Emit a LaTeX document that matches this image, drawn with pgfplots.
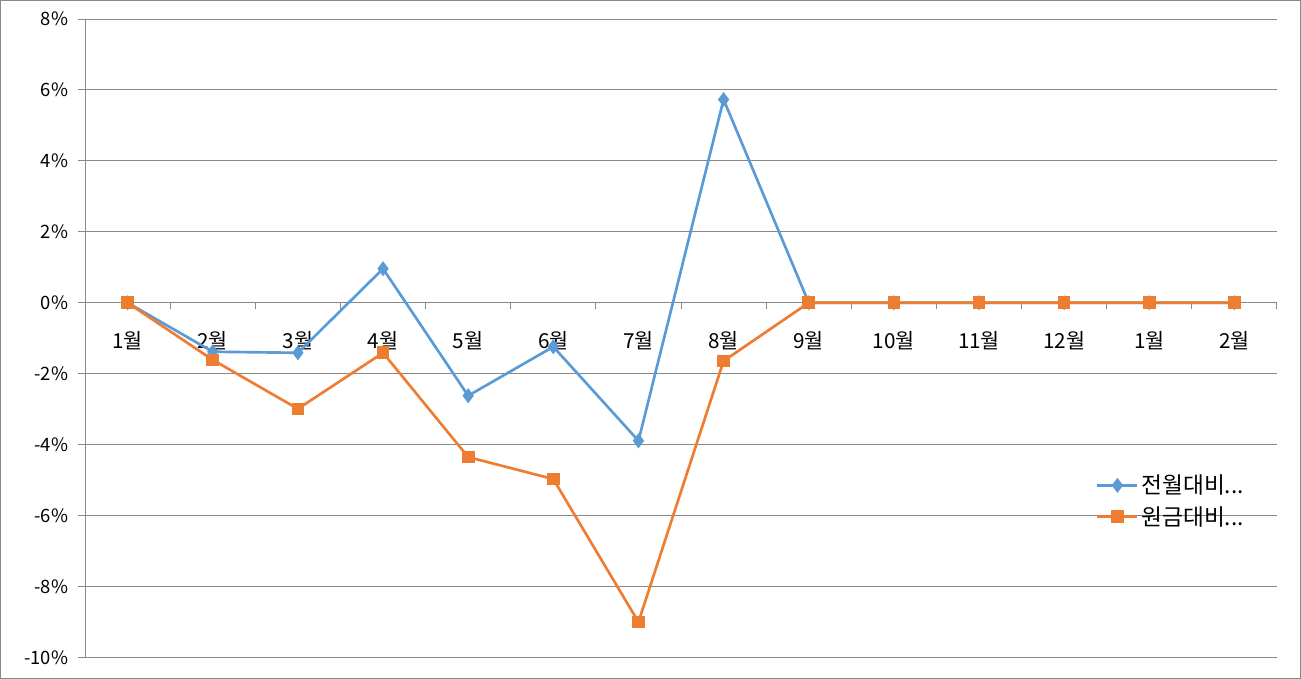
\documentclass[border=0pt]{standalone}
\usepackage{fontspec}
\setmainfont{Noto Sans CJK KR}
\usepackage{pgfplots}
\pgfplotsset{compat=1.18}
\definecolor{sblue}{HTML}{5B9BD5}
\definecolor{sorange}{HTML}{ED7D31}
\definecolor{gridc}{HTML}{888888}
\begin{document}
\begin{tikzpicture}
\begin{axis}[name=ax, scale only axis, width=893.25pt, height=478.5pt,
  xmin=-0.5, xmax=13.5, ymin=-10, ymax=8,
  axis x line=middle, axis y line=left,
  axis line style={-, draw=gridc, line width=0.75pt},
  ytick={-10,-8,...,8}, ymajorgrids,
  grid style={draw=gridc, line width=0.75pt},
  y tick style={draw=gridc, line width=0.75pt},
  tick align=outside, major tick length=5.25pt,
  /pgf/number format/assume math mode=true,
  yticklabel={\pgfmathprintnumber{\tick}\%},
  yticklabel style={font=\fontsize{13.8}{16}\selectfont, anchor=east, xshift=-4pt},
  xtick={0,...,13},
  xticklabels={1월,2월,3월,4월,5월,6월,7월,8월,9월,10월,11월,12월,1월,2월},
  major x tick style={draw=none},
  minor xtick={0.5,1.5,...,13.5},
  minor x tick style={draw=gridc, line width=0.75pt},
  minor tick length=5pt,
  xticklabel style={font=\fontsize{15.5}{18}\selectfont, anchor=center, yshift=-23pt},
  legend style={draw=none, fill=none, at={(0.848,0.245)}, anchor=west,
    font=\fontsize{17}{20}\selectfont, row sep=4pt, inner sep=0pt,
    /tikz/every even column/.append style={column sep=5pt}},
  legend cell align=left,
  legend image code/.code={\draw[mark repeat=2,mark phase=2,#1] plot coordinates {(0pt,0pt)(15pt,0pt)(30pt,0pt)};},
]
\addplot[color=sblue, line width=2pt, mark=diamond*, mark size=4pt, mark options={solid}] coordinates {
(0,0) (1,-1.38) (2,-1.41) (3,0.96) (4,-2.62) (5,-1.24) (6,-3.89) (7,5.73) (8,0) (9,0) (10,0) (11,0) (12,0) (13,0)};
\addlegendentry{전월대비...}
\addplot[color=sorange, line width=2pt, mark=square*, mark size=3.75pt] coordinates {
(0,0) (1,-1.61) (2,-2.99) (3,-1.41) (4,-4.35) (5,-4.97) (6,-9.0) (7,-1.64) (8,0) (9,0) (10,0) (11,0) (12,0) (13,0)};
\addlegendentry{원금대비...}
\end{axis}
\draw[gridc, line width=0.75pt] ([shift={(-63.375pt,-15.375pt)}]ax.south west) rectangle ([shift={(17.625pt,13.875pt)}]ax.north east);
\end{tikzpicture}
\end{document}
